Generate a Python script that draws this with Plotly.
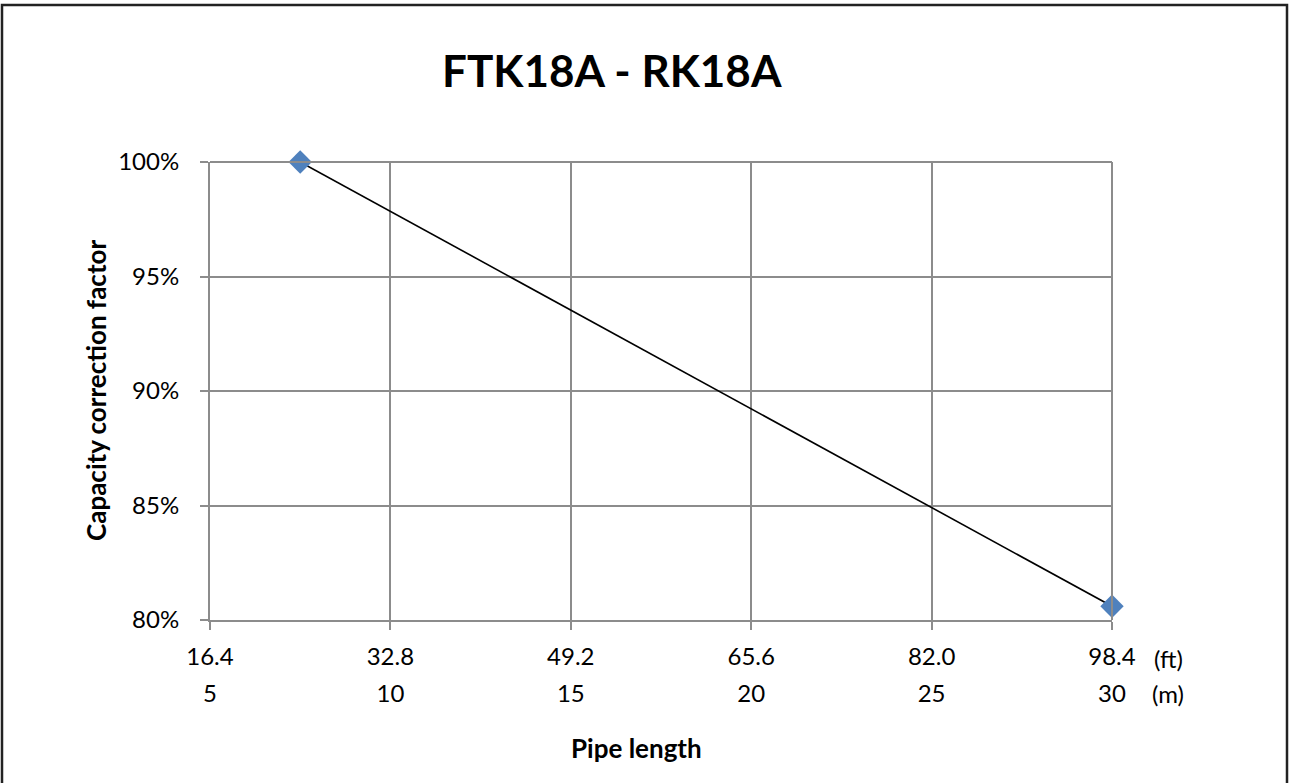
import plotly.graph_objects as go

# Data
pipe_length_m = [7.5, 30]
capacity_factor = [100.0, 80.6]
x_tick_m = [5, 10, 15, 20, 25, 30]
x_tick_ft = ["16.4", "32.8", "49.2", "65.6", "82.0", "98.4"]
y_ticks = [80, 85, 90, 95, 100]
y_tick_labels = ["80%", "85%", "90%", "95%", "100%"]

FONT = "Lato"
GRID = "#8c8c8c"

W, H = 1290, 783
L, R, T, B = 210, 1112, 162, 620

fig = go.Figure()
fig.add_trace(go.Scatter(
    x=pipe_length_m, y=capacity_factor, mode="lines+markers",
    line=dict(color="black", width=1.6),
    marker=dict(symbol="diamond", size=18, color="#4F81BD", line=dict(width=0)),
    showlegend=False, xaxis="x", yaxis="y", cliponaxis=False,
))
# invisible trace on second axis so it is rendered
fig.add_trace(go.Scatter(
    x=pipe_length_m, y=capacity_factor, mode="markers",
    marker=dict(opacity=0), showlegend=False, hoverinfo="skip",
    xaxis="x2", yaxis="y",
))

def px_x(p):
    return (p - L) / (R - L)

def px_y(p):
    return (B - p) / (B - T)

fig.update_layout(
    width=W, height=H,
    margin=dict(l=L, r=W - R, t=T, b=H - B),
    paper_bgcolor="white", plot_bgcolor="white",
    font=dict(family=FONT, size=24, color="black"),
    xaxis=dict(
        range=[5, 30], tickmode="array", tickvals=x_tick_m, ticktext=x_tick_ft,
        showgrid=True, gridcolor=GRID, gridwidth=2,
        showline=True, linecolor=GRID, linewidth=2,
        ticks="outside", ticklen=8, tickwidth=2, tickcolor=GRID,
        zeroline=False, tickfont=dict(size=24, family=FONT),
        ticklabelstandoff=6,
    ),
    xaxis2=dict(
        range=[5, 30], overlaying="x", anchor="y", side="bottom",
        tickmode="array", tickvals=x_tick_m, ticktext=[str(v) for v in x_tick_m],
        showgrid=False, showline=False, ticks="", zeroline=False,
        tickfont=dict(size=24, family=FONT), ticklabelstandoff=57,
    ),
    yaxis=dict(
        range=[80, 100], tickmode="array", tickvals=y_ticks, ticktext=y_tick_labels,
        showgrid=True, gridcolor=GRID, gridwidth=2,
        showline=True, linecolor=GRID, linewidth=2,
        ticks="outside", ticklen=8, tickwidth=2, tickcolor=GRID,
        zeroline=False, tickfont=dict(size=24, family=FONT),
        ticklabelstandoff=16,
    ),
    shapes=[
        dict(type="line", xref="paper", yref="paper", x0=0, x1=1, y0=1, y1=1,
             line=dict(color=GRID, width=2)),
        dict(type="line", xref="paper", yref="paper", x0=1, x1=1, y0=0, y1=1,
             line=dict(color=GRID, width=2)),
        dict(type="rect", xref="paper", yref="paper",
             x0=px_x(2), x1=px_x(1287), y0=px_y(5), y1=px_y(810),
             line=dict(color="#222222", width=2.5), layer="above"),
    ],
    annotations=[
        dict(text="<b>FTK18A - RK18A</b>", xref="paper", yref="paper",
             x=px_x(612), y=px_y(70), showarrow=False,
             font=dict(size=44, family=FONT), xanchor="center", yanchor="middle"),
        dict(text="<b>Capacity correction factor</b>", xref="paper", yref="paper",
             x=px_x(96), y=px_y(391), showarrow=False, textangle=-90,
             font=dict(size=26, family=FONT), xanchor="center", yanchor="middle"),
        dict(text="<b>Pipe length</b>", xref="paper", yref="paper",
             x=px_x(636), y=px_y(748), showarrow=False,
             font=dict(size=26, family=FONT), xanchor="center", yanchor="middle"),
        dict(text="(ft)", xref="paper", yref="paper",
             x=px_x(1168), y=px_y(658), showarrow=False,
             font=dict(size=24, family=FONT), xanchor="center", yanchor="middle"),
        dict(text="(m)", xref="paper", yref="paper",
             x=px_x(1168), y=px_y(693), showarrow=False,
             font=dict(size=24, family=FONT), xanchor="center", yanchor="middle"),
    ],
)

fig.write_html("out.html", post_script="document.body.style.margin='0';",
               config={"displayModeBar": False})
